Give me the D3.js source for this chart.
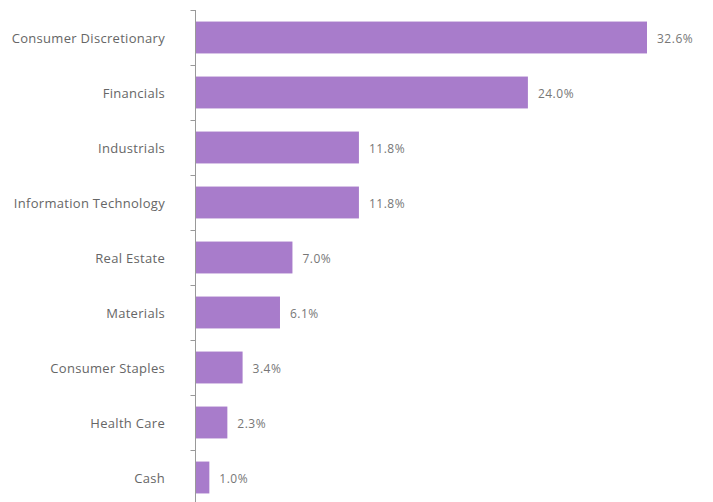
<!DOCTYPE html>
<html><head><meta charset="utf-8">
<script src="https://cdn.jsdelivr.net/npm/d3@7"></script>
<style>body{margin:0;background:#fff}svg{display:block}</style>
</head><body><svg id="c" width="713" height="502"></svg>
<script>
const categories = ["Consumer Discretionary","Financials","Industrials","Information Technology","Real Estate","Materials","Consumer Staples","Health Care","Cash"];
const values = [32.6,24.0,11.8,11.8,7.0,6.1,3.4,2.3,1.0];
const valueLabels = ["32.6%","24.0%","11.8%","11.8%","7.0%","6.1%","3.4%","2.3%","1.0%"];

const svg = d3.select("#c");
const x0 = 195.5;
const x = d3.scaleLinear().domain([0, 32.6]).range([x0, 647]);
const y = d3.scaleBand().domain(categories).range([10, 505]).paddingInner(0.42).paddingOuter(0.21);

svg.append("line").attr("x1", x0).attr("x2", x0).attr("y1", 10).attr("y2", 502)
  .attr("stroke", "#999").attr("stroke-width", 1);
const step = y.step();
const bounds = d3.range(categories.length).map(i => 10 + i * step);
svg.selectAll("line.tick").data(bounds).enter().append("line")
  .attr("x1", x0 - 5).attr("x2", x0).attr("y1", d => Math.round(d) + 0.5).attr("y2", d => Math.round(d) + 0.5)
  .attr("stroke", "#999");

svg.selectAll("rect.bar").data(values).enter().append("rect")
  .attr("x", x0 + 0.5)
  .attr("y", (d, i) => y(categories[i]))
  .attr("width", d => x(d) - x0 - 0.5)
  .attr("height", y.bandwidth())
  .attr("fill", "#a87ccb");

svg.selectAll("text.cat").data(categories).enter().append("text")
  .attr("x", 165).attr("y", d => y(d) + y.bandwidth() / 2)
  .attr("text-anchor", "end").attr("dominant-baseline", "central")
  .attr("font-family", "'Open Sans', sans-serif").attr("font-size", 13)
  .attr("letter-spacing", 0.3)
  .attr("fill", "#666").text(d => d);

svg.selectAll("text.val").data(values).enter().append("text")
  .attr("x", d => x(d) + 10).attr("y", (d, i) => y(categories[i]) + y.bandwidth() / 2 + 1)
  .attr("dominant-baseline", "central")
  .attr("font-family", "'Open Sans', sans-serif").attr("font-size", 12)
  .attr("letter-spacing", 0.5)
  .attr("fill", "#777").text((d, i) => valueLabels[i]);
</script></body></html>
